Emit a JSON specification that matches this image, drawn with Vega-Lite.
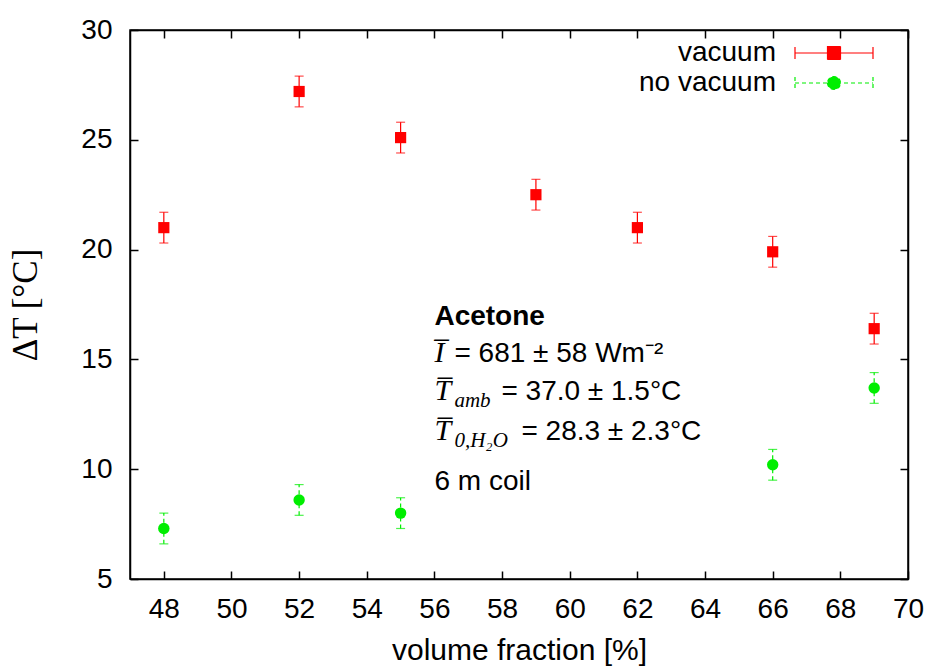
{
  "$schema": "https://vega.github.io/schema/vega-lite/v6.json",
  "width": 778,
  "height": 549,
  "autosize": {"type": "none"},
  "padding": {"left": 130, "top": 30, "right": 24, "bottom": 87},
  "background": "white",
  "config": {
    "view": {"stroke": "black", "strokeWidth": 1.5},
    "axis": {
      "grid": false,
      "domainColor": "black",
      "domainWidth": 1.5,
      "tickColor": "black",
      "tickWidth": 1.5,
      "tickSize": -8,
      "labelFlush": false,
      "labelFont": "Liberation Sans",
      "labelFontSize": 28,
      "labelColor": "black",
      "titleFont": "Liberation Sans",
      "titleFontSize": 30,
      "titleFontWeight": "normal",
      "titleColor": "black"
    }
  },
  "resolve": {"axis": {"x": "independent", "y": "independent"}},
  "datasets": {
    "pts": [
      {"fraction": 48, "dT": 21.0, "lo": 20.3, "hi": 21.7, "series": "vacuum"},
      {"fraction": 52, "dT": 27.2, "lo": 26.5, "hi": 27.9, "series": "vacuum"},
      {"fraction": 55, "dT": 25.1, "lo": 24.4, "hi": 25.8, "series": "vacuum"},
      {"fraction": 59, "dT": 22.5, "lo": 21.8, "hi": 23.2, "series": "vacuum"},
      {"fraction": 62, "dT": 21.0, "lo": 20.3, "hi": 21.7, "series": "vacuum"},
      {"fraction": 66, "dT": 19.9, "lo": 19.2, "hi": 20.6, "series": "vacuum"},
      {"fraction": 69, "dT": 16.4, "lo": 15.7, "hi": 17.1, "series": "vacuum"},
      {"fraction": 48, "dT": 7.3, "lo": 6.6, "hi": 8.0, "series": "no vacuum"},
      {"fraction": 52, "dT": 8.6, "lo": 7.9, "hi": 9.3, "series": "no vacuum"},
      {"fraction": 55, "dT": 8.0, "lo": 7.3, "hi": 8.7, "series": "no vacuum"},
      {"fraction": 66, "dT": 10.2, "lo": 9.5, "hi": 10.9, "series": "no vacuum"},
      {"fraction": 69, "dT": 13.7, "lo": 13.0, "hi": 14.4, "series": "no vacuum"}
    ]
  },
  "data": {"name": "pts"},
  "layer": [
    {
      "mark": {"type": "rule", "strokeWidth": 1.2},
      "encoding": {
        "x": {
          "field": "fraction", "type": "quantitative",
          "scale": {"domain": [47, 70], "nice": false, "zero": false},
          "axis": {"title": "volume fraction [%]", "values": [48, 50, 52, 54, 56, 58, 60, 62, 64, 66, 68, 70], "labelPadding": 24, "titlePadding": 12}
        },
        "y": {
          "field": "lo", "type": "quantitative",
          "scale": {"domain": [5, 30], "nice": false, "zero": false},
          "axis": {"title": "ΔT [°C]", "titleFont": "Liberation Serif", "titleFontSize": 35, "values": [5, 10, 15, 20, 25, 30], "labelPadding": 26, "titlePadding": 37}
        },
        "y2": {"field": "hi"},
        "color": {
          "field": "series", "type": "nominal",
          "scale": {"domain": ["vacuum", "no vacuum"], "range": ["#ff0000", "#00ee00"]},
          "legend": {
            "orient": "none",
            "legendX": 690,
            "legendY": 9,
            "title": null,
            "padding": 0,
            "offset": 0,
            "labelFont": "Liberation Sans",
            "labelFontSize": 28,
            "labelColor": "black",
            "labelAlign": "right",
            "labelOffset": -72,
            "symbolSize": 400,
            "rowPadding": 2,
            "encode": {
              "symbols": {
                "update": {
                  "shape": {"signal": "datum.value === 'vacuum' ? 'M-3.9,0H3.9M-3.9,-0.6V0.6M3.9,-0.6V0.6M-0.65,-0.65H0.65V0.65H-0.65Z' : 'M-3.9,0H3.9M-3.9,-0.6V0.6M3.9,-0.6V0.6M-0.65,0A0.65,0.65,0,1,0,0.65,0A0.65,0.65,0,1,0,-0.65,0Z'"},
                  "stroke": {"signal": "datum.value === 'vacuum' ? '#ff0000' : '#00ee00'"},
                  "fill": {"signal": "datum.value === 'vacuum' ? '#ff0000' : '#00ee00'"},
                  "strokeWidth": {"value": 1.2},
                  "strokeDash": {"signal": "datum.value === 'vacuum' ? [1, 0] : [4, 3]"},
                  "opacity": {"value": 1}
                }
              }
            }
          }
        },
        "strokeDash": {"field": "series", "type": "nominal", "scale": {"domain": ["vacuum", "no vacuum"], "range": [[1, 0], [4, 3]]}, "legend": null}
      }
    },
    {
      "mark": {"type": "tick", "orient": "horizontal", "size": 9, "thickness": 1.2},
      "encoding": {
        "x": {"field": "fraction", "type": "quantitative", "axis": null},
        "y": {"field": "lo", "type": "quantitative", "axis": null},
        "color": {"field": "series", "type": "nominal"}
      }
    },
    {
      "mark": {"type": "tick", "orient": "horizontal", "size": 9, "thickness": 1.2},
      "encoding": {
        "x": {"field": "fraction", "type": "quantitative", "axis": null},
        "y": {"field": "hi", "type": "quantitative", "axis": null},
        "color": {"field": "series", "type": "nominal"}
      }
    },
    {
      "transform": [{"filter": "datum.series === 'vacuum'"}],
      "mark": {"type": "square", "filled": true, "opacity": 1, "size": 125},
      "encoding": {
        "x": {"field": "fraction", "type": "quantitative", "axis": null},
        "y": {"field": "dT", "type": "quantitative", "axis": null},
        "color": {"field": "series", "type": "nominal"}
      }
    },
    {
      "transform": [{"filter": "datum.series === 'no vacuum'"}],
      "mark": {"type": "circle", "filled": true, "opacity": 1, "size": 130},
      "encoding": {
        "x": {"field": "fraction", "type": "quantitative", "axis": null},
        "y": {"field": "dT", "type": "quantitative", "axis": null},
        "color": {"field": "series", "type": "nominal"}
      }
    },
    {
      "data": {"values": [{"t": "Acetone"}]},
      "mark": {"type": "text", "align": "left", "baseline": "alphabetic", "font": "Liberation Sans", "fontSize": 28, "fontWeight": "bold", "color": "black"},
      "encoding": {"x": {"datum": 56.0, "type": "quantitative", "axis": null}, "y": {"datum": 16.57, "type": "quantitative", "axis": null}, "text": {"field": "t"}}
    },
    {
      "data": {"values": [{"t": "I̅"}]},
      "mark": {"type": "text", "align": "left", "baseline": "alphabetic", "font": "Liberation Serif", "fontSize": 30, "fontStyle": "italic", "color": "black"},
      "encoding": {"x": {"datum": 56.0, "type": "quantitative", "axis": null}, "y": {"datum": 14.88, "type": "quantitative", "axis": null}, "text": {"field": "t"}}
    },
    {
      "data": {"values": [{"t": "= 681 ± 58 Wm⁻²"}]},
      "mark": {"type": "text", "align": "left", "baseline": "alphabetic", "font": "Liberation Sans", "fontSize": 28, "dx": 20, "color": "black"},
      "encoding": {"x": {"datum": 56.0, "type": "quantitative", "axis": null}, "y": {"datum": 14.88, "type": "quantitative", "axis": null}, "text": {"field": "t"}}
    },
    {
      "data": {"values": [{"t": "T̅"}]},
      "mark": {"type": "text", "align": "left", "baseline": "alphabetic", "font": "Liberation Serif", "fontSize": 30, "fontStyle": "italic", "color": "black"},
      "encoding": {"x": {"datum": 56.0, "type": "quantitative", "axis": null}, "y": {"datum": 13.15, "type": "quantitative", "axis": null}, "text": {"field": "t"}}
    },
    {
      "data": {"values": [{"t": "amb"}]},
      "mark": {"type": "text", "align": "left", "baseline": "alphabetic", "font": "Liberation Serif", "fontSize": 21, "fontStyle": "italic", "dx": 20, "dy": 7, "color": "black"},
      "encoding": {"x": {"datum": 56.0, "type": "quantitative", "axis": null}, "y": {"datum": 13.15, "type": "quantitative", "axis": null}, "text": {"field": "t"}}
    },
    {
      "data": {"values": [{"t": "= 37.0 ± 1.5°C"}]},
      "mark": {"type": "text", "align": "left", "baseline": "alphabetic", "font": "Liberation Sans", "fontSize": 28, "dx": 67, "color": "black"},
      "encoding": {"x": {"datum": 56.0, "type": "quantitative", "axis": null}, "y": {"datum": 13.15, "type": "quantitative", "axis": null}, "text": {"field": "t"}}
    },
    {
      "data": {"values": [{"t": "T̅"}]},
      "mark": {"type": "text", "align": "left", "baseline": "alphabetic", "font": "Liberation Serif", "fontSize": 30, "fontStyle": "italic", "color": "black"},
      "encoding": {"x": {"datum": 56.0, "type": "quantitative", "axis": null}, "y": {"datum": 11.33, "type": "quantitative", "axis": null}, "text": {"field": "t"}}
    },
    {
      "data": {"values": [{"t": "0,H₂O"}]},
      "mark": {"type": "text", "align": "left", "baseline": "alphabetic", "font": "Liberation Serif", "fontSize": 21, "fontStyle": "italic", "dx": 20, "dy": 7, "color": "black"},
      "encoding": {"x": {"datum": 56.0, "type": "quantitative", "axis": null}, "y": {"datum": 11.33, "type": "quantitative", "axis": null}, "text": {"field": "t"}}
    },
    {
      "data": {"values": [{"t": "= 28.3 ± 2.3°C"}]},
      "mark": {"type": "text", "align": "left", "baseline": "alphabetic", "font": "Liberation Sans", "fontSize": 28, "dx": 87, "color": "black"},
      "encoding": {"x": {"datum": 56.0, "type": "quantitative", "axis": null}, "y": {"datum": 11.33, "type": "quantitative", "axis": null}, "text": {"field": "t"}}
    },
    {
      "data": {"values": [{"t": "6 m coil"}]},
      "mark": {"type": "text", "align": "left", "baseline": "alphabetic", "font": "Liberation Sans", "fontSize": 28, "color": "black"},
      "encoding": {"x": {"datum": 56.0, "type": "quantitative", "axis": null}, "y": {"datum": 9.05, "type": "quantitative", "axis": null}, "text": {"field": "t"}}
    },
    {
      "mark": {"type": "rule", "opacity": 0},
      "encoding": {
        "x": {"field": "fraction", "type": "quantitative", "axis": {"orient": "top", "labels": false, "title": null, "values": [48, 50, 52, 54, 56, 58, 60, 62, 64, 66, 68, 70]}},
        "y": {"field": "dT", "type": "quantitative", "axis": {"orient": "right", "labels": false, "title": null, "values": [5, 10, 15, 20, 25, 30]}}
      }
    }
  ]
}
